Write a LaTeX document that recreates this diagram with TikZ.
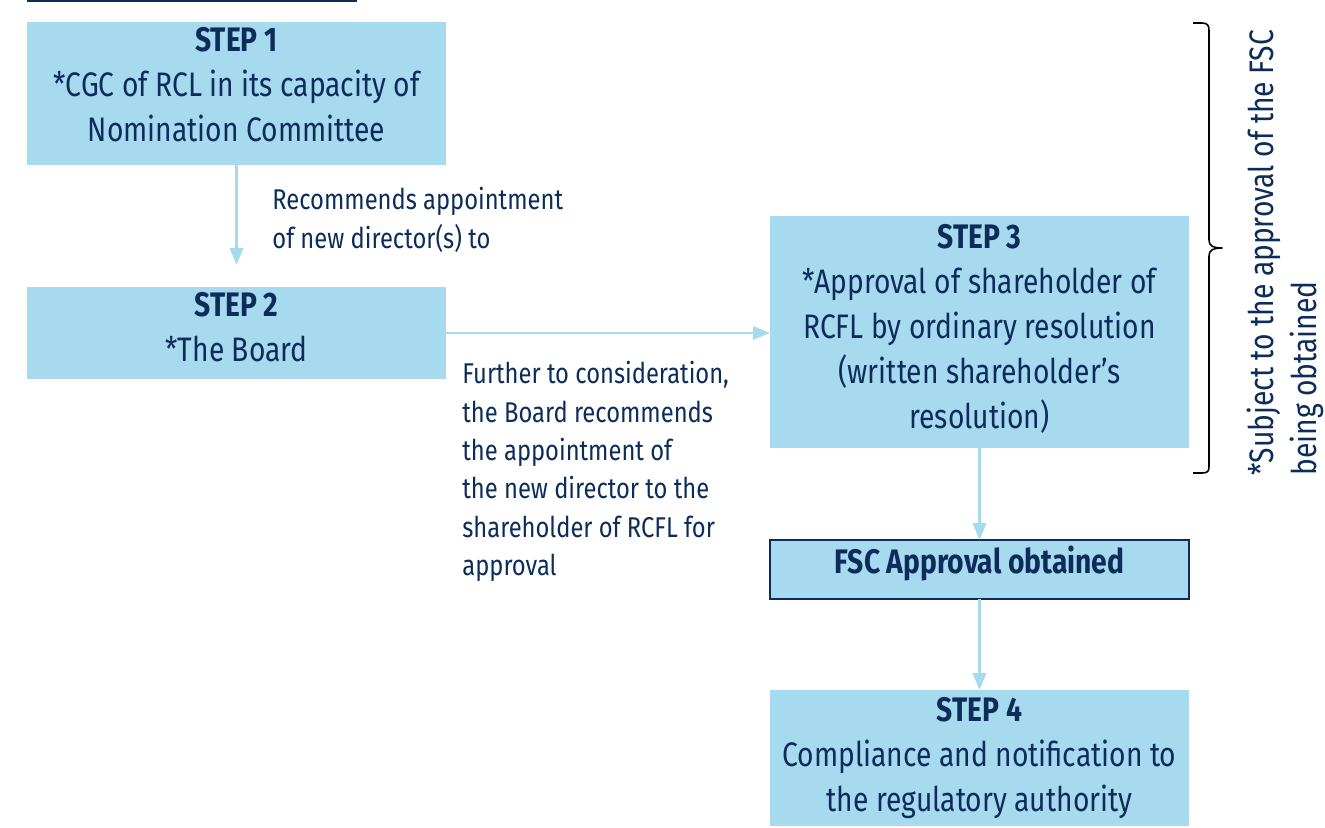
\documentclass[tikz,border=0pt]{standalone}
\usepackage{fontspec}
\setmainfont{Fira Sans}[FakeStretch=0.83]
\usetikzlibrary{arrows.meta}
\definecolor{boxblue}{HTML}{A8DAEF}
\definecolor{navy}{HTML}{0C2C5A}
\begin{document}
\begin{tikzpicture}[x=0.5pt,y=-0.5pt,
  box/.style={fill=boxblue, draw=none, minimum width=209.5pt, inner sep=0pt, outer sep=0pt},
  boxtext/.style={text=navy, align=center, inner sep=0pt, anchor=north, font=\fontsize{17}{22.5}\selectfont},
  lbl/.style={text=navy, align=left, inner sep=0pt, anchor=north west, font=\fontsize{14.3}{19.2}\selectfont},
  arr/.style={draw=boxblue, line width=1.5pt, -{Triangle[width=6.7pt,length=8.5pt]}},
]
\useasboundingbox (0,0) rectangle (1325,828);
\draw[navy, line width=1.5pt] (27,1) -- (357,1);
% boxes
\node[box, minimum height=71.5pt] (s1) at (236.5,93.5) {};
\node[box, minimum height=46pt] (s2) at (236.5,333) {};
\node[box, minimum height=116pt] (s3) at (979.5,332) {};
\node[box, draw=navy, line width=1.2pt, minimum height=29.5pt] (fsc) at (979.5,569.5) {};
\node[box, minimum height=68pt] (s4) at (979.5,758) {};
% box texts
\node[boxtext] (t1) at (236.5,27) {\textbf{STEP 1}\\*CGC of RCL in its capacity of\\Nomination Committee};
\node[boxtext] (t2) at (236.5,292) {\textbf{STEP 2}\\*The Board};
\node[boxtext] (t3) at (979.5,224) {\textbf{STEP 3}\\*Approval of shareholder of\\RCFL by ordinary resolution\\(written shareholder's\\resolution)};
\node[boxtext] (tf) at (979.5,546) {\textbf{FSC Approval obtained}};
\node[boxtext] (t4) at (979.5,697) {\textbf{STEP 4}\\Compliance and notification to\\the regulatory authority};
% connectors
\draw[arr] (s1.south) -- ([yshift=11pt]s2.north);
\draw[arr, line width=1.1pt] (s2.east) -- (s2.east -| s3.west);
\draw[arr] (s3.south) -- (fsc.north);
\draw[arr] (fsc.south) -- (s4.north);
% labels
\node[lbl] (l1) at (272,187) {Recommends appointment\\of new director(s) to};
\node[lbl] (l2) at (462,361) {Further to consideration,\\the Board recommends\\the appointment of\\the new director to the\\shareholder of RCFL for\\approval};
% brace
\draw[line width=0.8pt, line join=round]
  (1193,23) -- (1202,23) .. controls (1208,23) and (1209,26) .. (1209,31)
  -- (1209,240) .. controls (1209,246) and (1213,248) .. (1222,248)
  .. controls (1213,248) and (1209,250) .. (1209,256)
  -- (1209,466) .. controls (1209,471) and (1208,473) .. (1202,473) -- (1193,473);
\node[rotate=90, anchor=north west, align=left, inner sep=0pt, text=navy, font=\fontsize{17}{21.5}\selectfont] (note) at (1247,476) {*Subject to the approval of the FSC\\being obtained};
\end{tikzpicture}
\end{document}
